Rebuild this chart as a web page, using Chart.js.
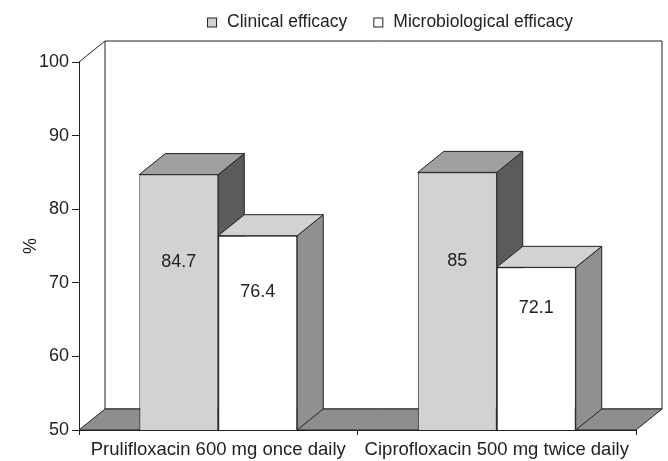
<!DOCTYPE html>
<html>
<head>
<meta charset="utf-8">
<script src="https://cdn.jsdelivr.net/npm/chart.js@4.4.1/dist/chart.umd.min.js"></script>
<style>
  body { margin: 0; background: #fff; }
  #wrap { width: 668px; height: 461px; }
</style>
</head>
<body>
<div id="wrap"><canvas id="chartCanvas" width="668" height="461"></canvas></div>
<script>
// data
let categories = ['Prulifloxacin 600 mg once daily', 'Ciprofloxacin 500 mg twice daily'];
let clinical = [84.7, 85];
let microbiological = [76.4, 72.1];
let seriesNames = ['Clinical efficacy', 'Microbiological efficacy'];
let yTicks = [50, 60, 70, 80, 90, 100];

const FONT = 'Liberation Sans, Arial, Helvetica, sans-serif';
const INK = '#222';
const DEPTH_X = 26;
const DEPTH_Y = 21;

// colours for front / top / side faces
const faces = [
    {front: '#d1d2d4', top: '#a0a0a2', side: '#5a5b5d'},
    {front: '#ffffff', top: '#d1d2d4', side: '#8f9092'}
];

function poly(ctx, pts, fill) {
    ctx.beginPath();
    ctx.moveTo(pts[0][0], pts[0][1]);
    for (let k = 1; k < pts.length; k++) ctx.lineTo(pts[k][0], pts[k][1]);
    ctx.closePath();
    ctx.fillStyle = fill;
    ctx.fill();
    ctx.stroke();
}

// back wall, floor and the top/side faces of the bars
const boxPlugin = {
    id: 'box3d',
    beforeDatasetsDraw(chart) {
        let ctx = chart.ctx;
        let a = chart.chartArea;
        ctx.save();
        ctx.strokeStyle = INK;
        ctx.lineWidth = 1;
        // back wall
        poly(ctx, [[a.left + DEPTH_X, a.top - DEPTH_Y], [a.right + DEPTH_X, a.top - DEPTH_Y],
                   [a.right + DEPTH_X, a.bottom - DEPTH_Y], [a.left + DEPTH_X, a.bottom - DEPTH_Y]], '#ffffff');
        // top-left diagonal
        ctx.beginPath();
        ctx.moveTo(a.left, a.top);
        ctx.lineTo(a.left + DEPTH_X, a.top - DEPTH_Y);
        ctx.stroke();
        // floor
        poly(ctx, [[a.left, a.bottom], [a.right, a.bottom],
                   [a.right + DEPTH_X, a.bottom - DEPTH_Y], [a.left + DEPTH_X, a.bottom - DEPTH_Y]], '#8e8e8e');

        let n = categories.length;
        for (let i = 0; i < n; i++) {
            chart.data.datasets.forEach((ds, d) => {
                let bar = chart.getDatasetMeta(d).data[i];
                let x0 = bar.x - bar.width / 2;
                let x1 = bar.x + bar.width / 2;
                let y = bar.y;
                let b = Math.min(bar.base, a.bottom);
                poly(ctx, [[x1, y], [x1 + DEPTH_X, y - DEPTH_Y], [x1 + DEPTH_X, b - DEPTH_Y], [x1, b]], faces[d].side);
                poly(ctx, [[x0, y], [x0 + DEPTH_X, y - DEPTH_Y], [x1 + DEPTH_X, y - DEPTH_Y], [x1, y]], faces[d].top);
            });
        }
        ctx.restore();
    },
    afterDatasetsDraw(chart) {
        let ctx = chart.ctx;
        let yScale = chart.scales.y;
        ctx.save();
        ctx.font = '18px ' + FONT;
        ctx.fillStyle = INK;
        ctx.textAlign = 'center';
        ctx.textBaseline = 'middle';
        chart.data.datasets.forEach((ds, d) => {
            chart.getDatasetMeta(d).data.forEach((bar, i) => {
                let v = ds.data[i];
                let ly = yScale.getPixelForValue((v + 61) / 2);
                ctx.fillText(String(v), bar.x, ly);
            });
        });
        ctx.restore();
    },
    afterDraw(chart) {
        // legend
        let ctx = chart.ctx;
        ctx.save();
        ctx.font = '17.5px ' + FONT;
        ctx.textBaseline = 'middle';
        ctx.textAlign = 'left';
        let box = 9, gap = 11, between = 26;
        let total = 0;
        seriesNames.forEach((s, k) => {
            total += box + gap + ctx.measureText(s).width + (k ? between : 0);
        });
        let x = 390 - total / 2;
        let y = 22;
        seriesNames.forEach((s, k) => {
            ctx.fillStyle = faces[k].front;
            ctx.strokeStyle = INK;
            ctx.lineWidth = 1;
            ctx.fillRect(x + 0.5, y - box / 2 + 0.5, box, box);
            ctx.strokeRect(x + 0.5, y - box / 2 + 0.5, box, box);
            ctx.fillStyle = INK;
            ctx.fillText(s, x + box + gap, y);
            x += box + gap + ctx.measureText(s).width + between;
        });
        ctx.restore();
    }
};

let ctx = document.getElementById('chartCanvas').getContext('2d');
let chart = new Chart(ctx, {
    type: 'bar',
    data: {
        labels: categories,
        datasets: [
            {label: seriesNames[0], data: clinical, backgroundColor: faces[0].front,
             borderColor: INK, borderWidth: 1, borderSkipped: false},
            {label: seriesNames[1], data: microbiological, backgroundColor: faces[1].front,
             borderColor: INK, borderWidth: 1, borderSkipped: false}
        ]
    },
    options: {
        responsive: false,
        animation: false,
        events: [],
        layout: {padding: {top: 62, right: 32, left: 0, bottom: 0}},
        datasets: {bar: {categoryPercentage: 0.567, barPercentage: 1}},
        plugins: {legend: {display: false}, tooltip: {enabled: false}},
        scales: {
            x: {
                grid: {offset: true, drawOnChartArea: false, drawTicks: true, tickLength: 5, color: INK},
                border: {display: true, color: INK},
                ticks: {font: {family: FONT, size: 18.5}, color: INK, padding: 4, maxRotation: 0, autoSkip: false},
                afterFit(scale) { scale.height = 31; }
            },
            y: {
                min: yTicks[0],
                max: yTicks[yTicks.length - 1],
                afterBuildTicks(scale) { scale.ticks = yTicks.map(v => ({value: v})); },
                grid: {drawOnChartArea: false, drawTicks: true, tickLength: 7, color: INK},
                border: {display: true, color: INK},
                ticks: {font: {family: FONT, size: 18}, color: INK, padding: 3},
                title: {display: true, text: '%', font: {family: FONT, size: 18}, color: INK, padding: {top: 20, bottom: 0}},
                afterFit(scale) { scale.width = 79; }
            }
        }
    },
    plugins: [boxPlugin]
});
</script>
</body>
</html>
